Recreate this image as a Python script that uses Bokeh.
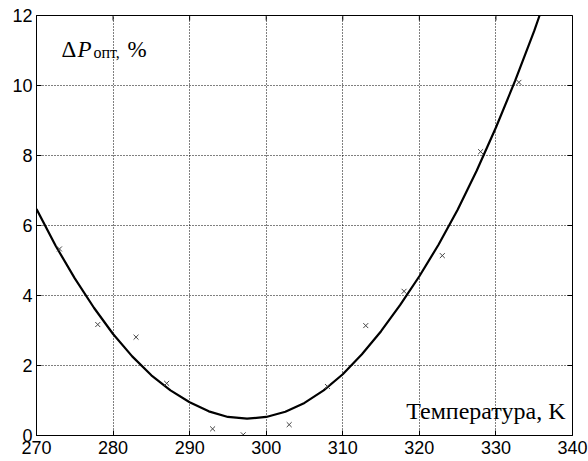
import math
from bokeh.plotting import figure
from bokeh.models import Label, Range1d, FixedTicker
from bokeh.embed import file_html
from bokeh.resources import INLINE

# measured points (temperature, K ; dP, %)
temp_pts = [273, 278, 283, 287, 293, 297, 303, 308, 313, 318, 323, 328, 333]
dp_pts = [5.33, 3.17, 2.81, 1.49, 0.19, 0.02, 0.31, 1.4, 3.14, 4.12, 5.14, 8.11, 10.09]

# fitted curve, values every 2.5 K
curve_t = [270.0, 272.5, 275.0, 277.5, 280.0, 282.5, 285.0, 287.5, 290.0, 292.5,
           295.0, 297.5, 300.0, 302.5, 305.0, 307.5, 310.0, 312.5, 315.0, 317.5,
           320.0, 322.5, 325.0, 327.5, 330.0, 332.5, 335.0, 335.7]
curve_dp = [6.47, 5.42, 4.49, 3.65, 2.90, 2.26, 1.72, 1.29, 0.95, 0.69,
            0.53, 0.48, 0.53, 0.68, 0.93, 1.29, 1.75, 2.32, 2.98, 3.73,
            4.55, 5.45, 6.45, 7.57, 8.80, 10.13, 11.56, 12.0]

x_ticks = [270, 280, 290, 300, 310, 320, 330, 340]
y_ticks = [0, 2, 4, 6, 8, 10, 12]

p = figure(width=588, height=461, output_backend="svg", toolbar_location=None,
           x_range=Range1d(270, 340), y_range=Range1d(0, 12),
           min_border_left=36, min_border_right=16, min_border_top=15, min_border_bottom=26)
p.background_fill_color = "white"
p.border_fill_color = "white"
p.outline_line_color = "black"
p.outline_line_width = 1

for ax, tk in ((p.xaxis[0], x_ticks), (p.yaxis[0], y_ticks)):
    ax.ticker = FixedTicker(ticks=tk)
    ax.major_tick_in = 5
    ax.major_tick_out = 0
    ax.minor_tick_line_color = None
    ax.axis_line_color = "black"
    ax.major_tick_line_color = "black"
    ax.major_label_text_font = "Liberation Sans"
    ax.major_label_text_font_size = "18px"
    ax.major_label_text_color = "black"
p.xaxis.major_label_standoff = 5
p.yaxis.major_label_standoff = 4

p.xgrid.ticker = FixedTicker(ticks=x_ticks)
p.ygrid.ticker = FixedTicker(ticks=y_ticks)
for g in (p.xgrid[0], p.ygrid[0]):
    g.grid_line_color = "black"
    g.grid_line_dash = "1 2"
    g.grid_line_width = 1

# inward tick marks on the top and right borders (outer half clipped by the frame)
p.scatter(x_ticks, [12] * len(x_ticks), marker="dash", angle=math.pi / 2, size=10,
          line_color="black", line_width=1)
p.scatter([340] * len(y_ticks), y_ticks, marker="dash", size=10,
          line_color="black", line_width=1)

p.line(curve_t, curve_dp, line_color="black", line_width=2.2, line_join="round")
p.scatter(temp_pts, dp_pts, marker="x", size=7, line_color="#444444", line_width=1)

serif = "Liberation Serif"
p.add_layout(Label(x=270, y=12, x_offset=25, y_offset=-34, text="Δ", text_font=serif,
                   text_font_size="23px", text_color="black", text_baseline="alphabetic"))
p.add_layout(Label(x=270, y=12, x_offset=41, y_offset=-34, text="P", text_font=serif,
                   text_font_style="italic", text_font_size="23px", text_color="black",
                   text_baseline="alphabetic"))
p.add_layout(Label(x=270, y=12, x_offset=57, y_offset=-37, text="опт,", text_font=serif,
                   text_font_size="16px", text_color="black", text_baseline="alphabetic"))
p.add_layout(Label(x=270, y=12, x_offset=91, y_offset=-34, text="%", text_font=serif,
                   text_font_size="23px", text_color="black", text_baseline="alphabetic"))
p.add_layout(Label(x=340, y=0, x_offset=-7, y_offset=25, text="Температура, K", text_font=serif,
                   text_font_size="24px", text_color="black", text_align="right",
                   text_baseline="alphabetic"))

open("out.html", "w").write(file_html(p, INLINE))
